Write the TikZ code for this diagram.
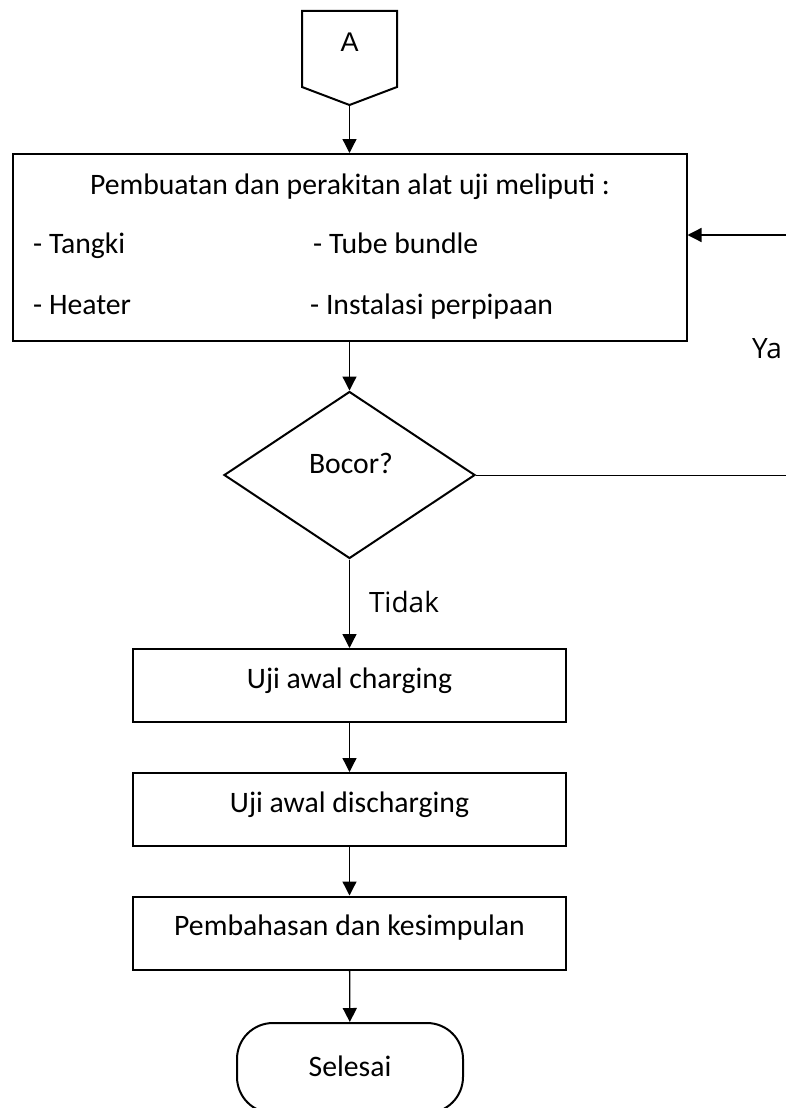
\documentclass[tikz,border=0pt]{standalone}
\usepackage{fontspec}
\setmainfont{Carlito}
\newfontfamily\answerfont{Open Sans}
\newfontfamily\pagefont{Liberation Sans}
\usepackage{tikz}
\usetikzlibrary{positioning,shapes.geometric,arrows.meta}

\begin{document}
\begin{tikzpicture}[x=1pt, y=-1pt, font=\fontsize{29.7}{35}\selectfont,
  process/.style={rectangle,draw,line width=2pt,minimum width=433pt,minimum height=73pt,inner sep=0pt,text height=5pt,text depth=0pt},
  decision/.style={diamond,draw,line width=2pt,minimum width=251pt,minimum height=167pt,inner sep=0pt},
  terminal/.style={rectangle,rounded corners=36pt,draw,line width=2pt,minimum width=226pt,minimum height=90pt,inner sep=0pt,text height=16pt,text depth=0pt},
  flow/.style={-{Triangle[length=14pt,width=14pt]},line width=1.3pt},
  txt/.style={inner sep=0pt,anchor=base},
  answer/.style={inner sep=0pt,anchor=base,font=\answerfont\fontsize{28}{34}\selectfont}]
  \useasboundingbox (0,0) rectangle (786,1108);
  % off-page connector
  \draw[line width=2pt,line join=miter] (302,11) -- (397,11) -- (397,87) -- (349.5,105) -- (302,87) -- cycle;
  \node (conA) at (349.5,52) [txt,font=\pagefont\fontsize{27}{32}\selectfont] {A};
  \coordinate (conAtip) at (349.5,105);
  \node (rakit) at (349.5,247.5) [rectangle,draw,line width=2pt,minimum width=674pt,minimum height=187pt] {};
  \node (rakitjudul) at (350,194) [txt] {Pembuatan dan perakitan alat uji meliputi :};
  \node (tangki) at (33,253) [txt,anchor=base west] {- Tangki};
  \node (tube) at (313,253) [txt,anchor=base west] {- Tube bundle};
  \node (heater) at (33,314) [txt,anchor=base west] {- Heater};
  \node (pipa) at (310,314) [txt,anchor=base west] {- Instalasi perpipaan};
  \node (bocor) at (349.5,475) [decision] {};
  \node (bocortext) at (351,473) [txt] {Bocor?};
  \node (charging) at (349.5,685.5) [process] {Uji awal charging};
  \node (discharging) at (349.5,809.5) [process] {Uji awal discharging};
  \node (bahas) at (349.5,933) [process] {Pembahasan dan kesimpulan};
  \node (selesai) at (350,1068) [terminal] {Selesai};
  \coordinate (yaOut) at (786,475);
  \coordinate (yaIn) at (786,235);
  \node (ya) at (767,358) [answer] {Ya};
  \node (tidak) at (404,612) [answer] {Tidak};
  \draw[flow] (conAtip) to (rakit.north);
  \draw[flow] (rakit.south) to (bocor.north);
  \draw[flow] (bocor.south) to (charging.north);
  \draw[flow] (charging) to (discharging);
  \draw[flow] (discharging) to (bahas);
  \draw[flow] (bahas) to (selesai);
  \draw[line width=1pt] (bocor.east) to (yaOut);
  \draw[flow] (yaIn) to (yaIn -| rakit.east);
\end{tikzpicture}
\end{document}
